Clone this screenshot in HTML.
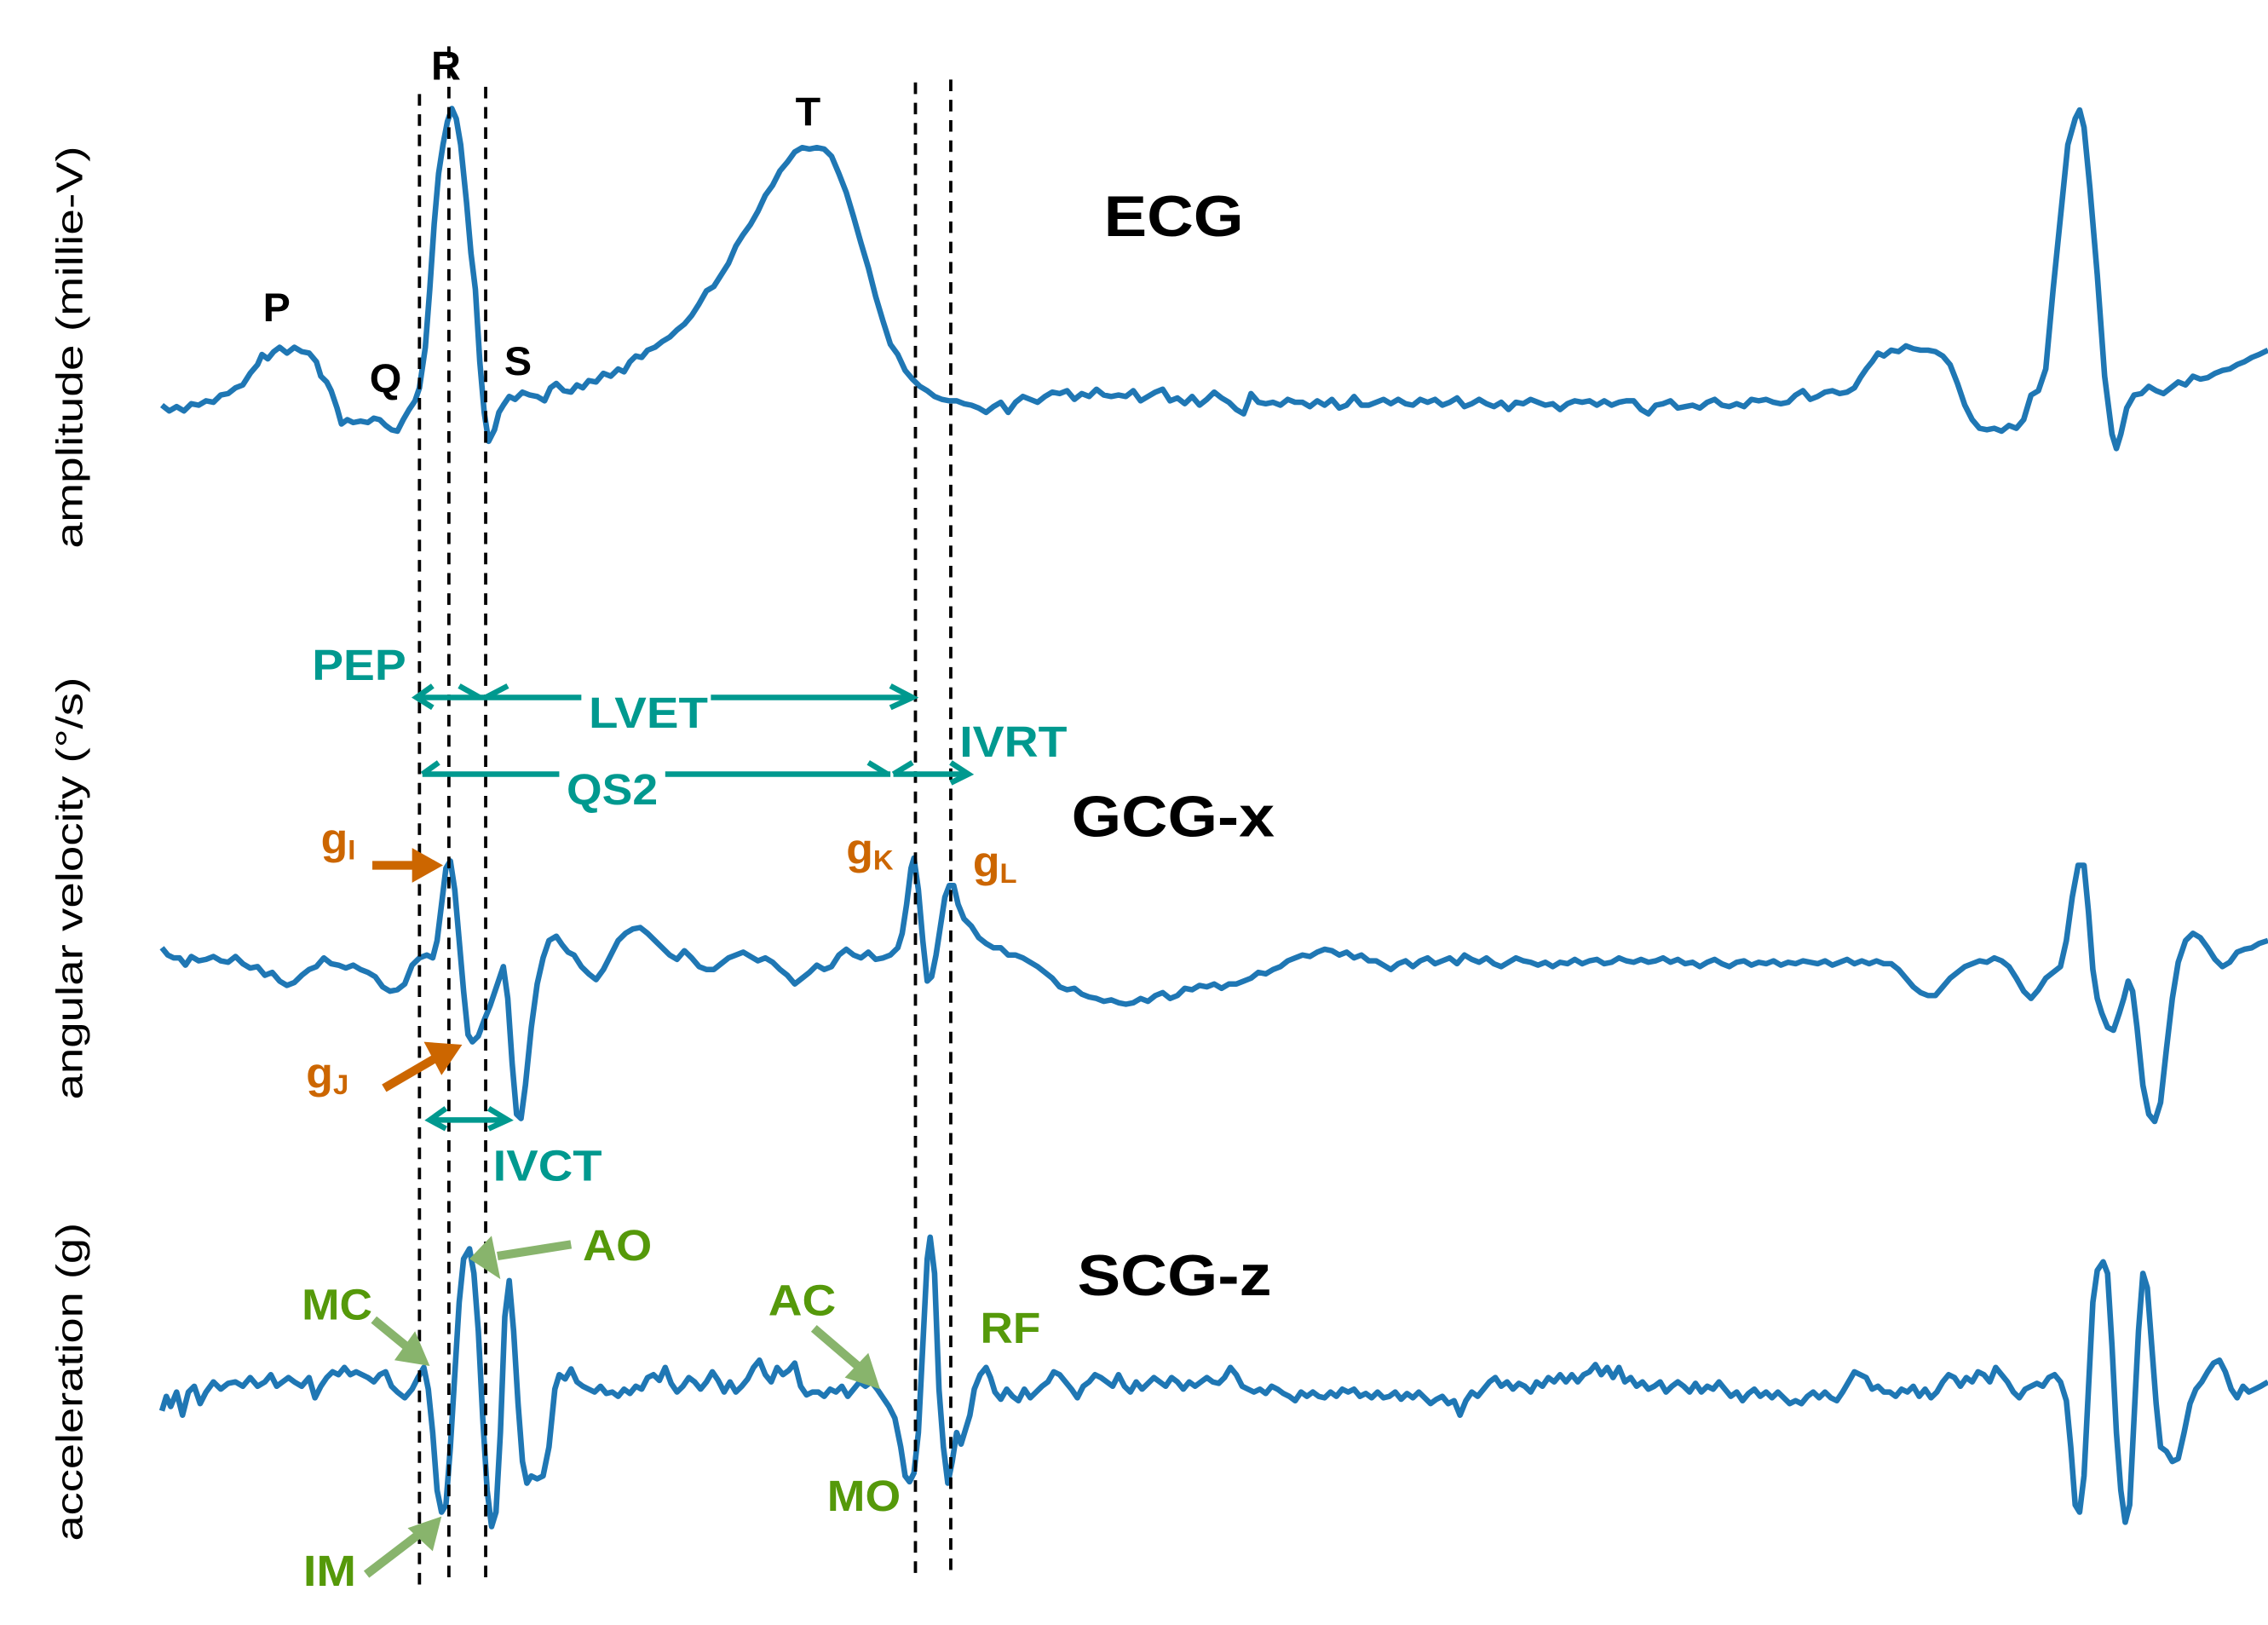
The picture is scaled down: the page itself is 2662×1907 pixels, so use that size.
<!DOCTYPE html>
<html><head><meta charset="utf-8"><style>html,body{margin:0;padding:0;background:#fff}svg{display:block}</style></head>
<body>
<svg width="2662" height="1907" viewBox="0 0 1541 1123" preserveAspectRatio="none" xmlns="http://www.w3.org/2000/svg" font-family="Liberation Sans, sans-serif">
<rect width="1541" height="1123" fill="#fff"/>
<g fill="none" stroke="#1f77b4" stroke-width="3.8" stroke-linejoin="round">
<polyline points="110,280 115,284 120,281 125,284 130,279 135,280 140,277 145,278 150,273 155,272 160,268 165,266 170,258 175,252 178,245 182,248 186,243 190,240 195,244 200,240 205,243 210,244 215,250 218,260 222,264 225,270 229,282 232,293 236,290 240,292 245,291 250,292 254,289 258,290 262,294 266,297 270,298 274,290 278,283 282,277 285,268 289,240 292,200 295,155 298,120 301,100 304,84 307,75 310,82 313,100 317,140 320,175 323,200 326,250 329,285 332,305 336,297 339,285 342,280 346,274 350,276 355,271 360,273 365,274 370,277 374,268 378,265 383,270 388,271 392,266 396,268 400,263 405,264 410,258 415,260 420,255 424,257 428,250 432,246 436,247 440,242 445,240 450,236 455,233 460,228 465,224 470,218 475,210 480,201 485,198 490,190 495,182 500,170 505,162 510,155 515,146 520,135 525,128 530,118 535,112 540,105 545,102 550,103 555,102 560,103 565,108 570,120 575,133 580,150 585,168 590,185 595,205 600,222 605,238 610,245 615,256 620,262 625,267 630,270 635,274 640,276 645,277 650,277 655,279 660,280 665,282 670,285 675,281 680,278 685,285 690,278 695,274 700,276 705,278 710,274 715,271 720,272 725,270 730,276 735,272 740,274 745,269 750,273 755,274 760,273 765,274 770,270 775,277 780,274 785,271 790,269 795,277 800,275 805,279 810,274 815,280 820,276 825,271 830,275 835,278 840,283 845,286 848,278 850,272 855,278 860,279 865,278 870,280 875,276 880,278 885,278 890,281 895,277 900,280 905,276 910,282 915,280 920,274 925,280 930,280 935,278 940,276 945,279 950,276 955,279 960,280 965,276 970,278 975,276 980,280 985,278 990,275 995,281 1000,279 1005,276 1010,279 1015,281 1020,278 1025,283 1030,278 1035,279 1040,276 1045,278 1050,280 1055,279 1060,283 1065,279 1070,277 1075,278 1080,277 1085,280 1090,277 1095,280 1100,278 1105,277 1110,277 1115,283 1120,286 1125,280 1130,279 1135,277 1140,282 1145,281 1150,280 1155,282 1160,278 1165,276 1170,280 1175,281 1180,279 1185,281 1190,276 1195,277 1200,276 1205,278 1210,279 1215,278 1220,273 1225,270 1230,276 1235,274 1240,271 1245,270 1250,272 1255,271 1260,268 1264,261 1268,255 1272,250 1276,244 1280,246 1285,242 1290,243 1295,239 1300,241 1305,242 1310,242 1315,243 1320,246 1325,252 1330,265 1335,280 1340,290 1345,296 1350,297 1355,296 1360,298 1365,294 1370,296 1375,290 1380,273 1385,270 1390,255 1395,200 1400,150 1405,100 1410,82 1413,76 1416,88 1420,130 1425,190 1430,260 1435,300 1438,310 1441,300 1445,282 1450,273 1455,272 1460,267 1465,270 1470,272 1475,268 1480,264 1485,266 1490,260 1495,262 1500,261 1505,258 1510,256 1515,255 1520,252 1525,250 1530,247 1535,245 1541,242"/>
<polyline points="110,655 114,660 118,662 122,662 126,667 130,661 135,664 140,663 145,661 150,664 155,665 160,661 165,666 170,669 175,668 180,674 185,672 190,678 195,681 200,679 205,674 210,670 215,668 220,662 225,666 230,667 235,669 240,667 245,670 250,672 255,675 260,682 265,685 270,684 275,680 280,667 285,662 290,660 294,662 297,650 300,625 303,600 306,595 309,615 312,650 315,685 318,715 321,720 325,716 329,705 333,695 338,680 342,668 345,690 348,735 351,770 354,773 357,750 361,710 365,680 369,662 373,650 378,647 382,653 386,658 390,660 395,668 400,673 405,677 410,670 415,660 420,650 425,645 430,642 435,641 440,645 445,650 450,655 455,660 460,663 465,657 470,662 475,668 480,670 485,670 490,666 495,662 500,660 505,658 510,661 515,664 520,662 525,665 530,670 535,674 540,680 545,676 550,672 555,667 560,670 565,668 570,660 575,656 580,660 585,662 590,658 595,663 600,662 605,660 610,655 613,645 616,625 619,600 621,593 624,615 627,650 630,678 633,675 636,660 639,640 642,620 645,612 648,612 651,625 655,635 660,640 665,648 670,652 675,655 680,655 685,660 690,660 695,662 700,665 705,668 710,672 715,676 720,682 725,684 730,683 735,687 740,689 745,690 750,692 755,691 760,693 765,694 770,693 775,690 780,692 785,688 790,686 795,690 800,688 805,683 810,684 815,681 820,682 825,680 830,683 835,680 840,680 845,678 850,676 855,672 860,673 865,670 870,668 875,664 880,662 885,660 890,661 895,658 900,656 905,657 910,660 915,658 920,662 925,660 930,664 935,664 940,667 945,670 950,666 955,664 960,668 965,664 970,662 975,666 980,664 985,662 990,666 995,660 1000,663 1005,665 1010,662 1015,666 1020,668 1025,665 1030,662 1035,664 1040,665 1045,667 1050,665 1055,668 1060,665 1065,666 1070,663 1075,666 1080,664 1085,663 1090,666 1095,665 1100,662 1105,664 1110,665 1115,663 1120,665 1125,664 1130,662 1135,665 1140,663 1145,666 1150,665 1155,668 1160,665 1165,663 1170,666 1175,668 1180,665 1185,664 1190,667 1195,665 1200,666 1205,664 1210,667 1215,665 1220,666 1225,664 1230,665 1235,666 1240,664 1245,667 1250,665 1255,663 1260,666 1265,664 1270,666 1275,664 1280,666 1285,666 1290,670 1295,676 1300,682 1305,686 1310,688 1315,688 1320,682 1325,676 1330,672 1335,668 1340,666 1345,664 1350,665 1355,662 1360,664 1365,668 1370,676 1375,685 1380,690 1385,684 1390,676 1395,672 1400,668 1404,650 1408,620 1412,598 1416,598 1419,630 1422,670 1425,690 1428,700 1432,710 1436,712 1440,700 1443,690 1446,678 1449,685 1452,710 1456,750 1460,770 1464,775 1468,762 1472,725 1476,690 1480,665 1485,650 1490,645 1495,648 1500,655 1505,663 1510,668 1515,665 1520,658 1525,656 1530,655 1535,652 1541,650"/>
<polyline points="110,975 113,965 116,972 120,962 124,978 128,962 132,958 136,970 140,962 145,955 150,960 155,956 160,955 165,958 170,952 175,958 180,955 184,950 188,958 192,955 196,952 200,955 205,958 210,952 214,966 218,958 222,952 226,948 230,950 234,945 238,950 242,948 246,950 250,952 254,955 258,950 262,948 266,958 270,962 275,966 280,960 284,952 288,945 291,960 294,990 297,1030 300,1045 303,1040 306,1000 309,950 312,900 315,870 319,863 322,880 325,920 328,980 331,1030 334,1055 337,1045 340,990 343,910 346,885 349,920 352,970 355,1010 358,1025 361,1020 365,1022 369,1020 373,1000 377,960 380,950 384,953 388,946 392,955 396,958 400,960 404,962 408,958 412,963 416,962 420,965 424,960 428,963 432,958 436,960 440,952 444,950 448,954 452,945 456,956 460,962 464,958 468,952 472,955 476,960 480,955 484,948 488,954 492,962 496,955 500,962 504,958 508,953 512,945 516,940 520,950 524,955 528,945 532,950 536,947 540,942 544,958 548,964 552,962 556,962 560,965 564,960 568,962 572,958 576,965 580,960 584,955 588,958 592,955 596,960 600,966 604,972 608,980 612,1000 615,1020 618,1024 621,1018 624,990 627,930 630,870 632,855 635,880 638,960 641,1000 644,1025 647,1010 650,990 653,998 656,988 659,978 662,960 666,950 670,945 673,952 676,962 680,967 684,960 688,965 692,968 696,960 700,966 704,962 708,958 712,955 716,948 720,950 724,955 728,960 732,966 736,958 740,955 744,950 748,952 752,955 756,958 760,950 764,958 768,962 772,955 776,960 780,956 784,952 788,955 792,958 796,952 800,955 804,960 808,955 812,958 816,955 820,952 824,955 828,956 832,952 836,945 840,950 844,958 848,960 852,962 856,960 860,963 864,958 868,960 872,963 876,965 880,968 884,962 888,965 892,962 896,965 900,966 904,962 908,965 912,960 916,962 920,960 924,965 928,963 932,966 936,962 940,966 944,965 948,962 952,967 956,963 960,966 964,962 968,966 972,970 976,967 980,965 984,970 988,968 992,978 996,968 1000,962 1004,965 1008,960 1012,955 1016,952 1020,958 1024,955 1028,960 1032,956 1036,958 1040,962 1044,955 1048,958 1052,952 1056,955 1060,950 1064,955 1068,950 1072,955 1076,950 1080,948 1084,943 1088,950 1092,945 1096,952 1100,945 1104,955 1108,952 1112,958 1116,955 1120,960 1124,958 1128,955 1132,962 1136,958 1140,955 1144,958 1148,962 1152,956 1156,962 1160,958 1164,960 1168,955 1172,960 1176,965 1180,962 1184,968 1188,963 1192,960 1196,965 1200,962 1204,966 1208,962 1212,966 1216,970 1220,968 1224,970 1228,965 1232,962 1236,966 1240,962 1244,966 1248,968 1252,962 1256,955 1260,948 1264,950 1268,952 1272,960 1276,958 1280,962 1284,962 1288,965 1292,960 1296,962 1300,958 1304,965 1308,960 1312,966 1316,962 1320,955 1324,950 1328,952 1332,958 1336,952 1340,955 1344,948 1348,950 1352,955 1356,945 1360,950 1364,955 1368,962 1372,966 1376,960 1380,958 1384,956 1388,958 1392,952 1396,950 1400,955 1404,968 1407,1000 1410,1040 1413,1045 1416,1020 1419,960 1422,900 1425,878 1429,872 1432,880 1435,930 1438,990 1441,1030 1444,1052 1447,1040 1450,980 1453,920 1456,880 1459,890 1462,930 1465,970 1468,1000 1472,1003 1476,1010 1480,1008 1484,990 1488,970 1492,960 1496,955 1500,948 1504,942 1508,940 1512,948 1516,960 1520,966 1524,958 1528,962 1532,960 1536,958 1541,955"/>
</g>
<g stroke="#000" stroke-width="2.2" stroke-dasharray="8,6">
<line x1="285" y1="65" x2="285" y2="1095"/>
<line x1="305" y1="32" x2="305" y2="1092"/>
<line x1="330" y1="60" x2="330" y2="1090"/>
<line x1="622" y1="57" x2="622" y2="1088"/>
<line x1="646" y1="55" x2="646" y2="1088"/>
</g>
<g stroke="#00998f" stroke-width="3.8" fill="none" stroke-linecap="butt">
<line x1="283" y1="482" x2="395" y2="482"/>
<line x1="483" y1="482" x2="620" y2="482"/>
<polyline points="294,474 283,482 294,489"/>
<polyline points="312,474 326,482"/>
<polyline points="345,474 330,482"/>
<polyline points="605,474 620,482 605,489"/>
<line x1="287" y1="535" x2="380" y2="535"/>
<line x1="452" y1="535" x2="605" y2="535"/>
<polyline points="298,527 287,535"/>
<polyline points="590,527 603,535"/>
<line x1="607" y1="535" x2="658" y2="535"/>
<polyline points="620,527 607,535"/>
<polyline points="646,527 658,535 646,541"/>
<line x1="292" y1="774" x2="345" y2="774"/>
<polyline points="303,766 292,774 303,780"/>
<polyline points="332,766 345,774 332,780"/>
</g>
<g fill="#cc6600" stroke="#cc6600">
<line x1="253" y1="598" x2="285" y2="598" stroke-width="6"/>
<polygon points="280,586 301,598 280,610" stroke="none"/>
<line x1="261" y1="752" x2="298" y2="730" stroke-width="6"/>
<polygon points="288,720 314,722 300,743" stroke="none"/>
</g>
<g fill="#88b46c" stroke="#88b46c">
<line x1="254" y1="912" x2="278" y2="932" stroke-width="6"/>
<polygon points="268,940 292,944 282,920" stroke="none"/>
<line x1="388" y1="860" x2="338" y2="868" stroke-width="6"/>
<polygon points="334,854 319,870 340,884" stroke="none"/>
<line x1="553" y1="918" x2="584" y2="945" stroke-width="6"/>
<polygon points="574,952 598,960 590,935" stroke="none"/>
<line x1="249" y1="1088" x2="285" y2="1060" stroke-width="6"/>
<polygon points="277,1056 300,1048 294,1072" stroke="none"/>
</g>
<g font-weight="bold" fill="#000" font-size="28">
<text x="188" y="222" text-anchor="middle">P</text>
<text x="262" y="271" text-anchor="middle">Q</text>
<text x="303" y="55" text-anchor="middle">R</text>
<text x="352" y="259" text-anchor="middle">S</text>
<text x="549" y="87" text-anchor="middle">T</text>
<text x="750" y="163" font-size="40" textLength="95" lengthAdjust="spacingAndGlyphs">ECG</text>
<text x="728" y="578" font-size="40" textLength="138" lengthAdjust="spacingAndGlyphs">GCG-x</text>
<text x="732" y="895" font-size="40" textLength="132" lengthAdjust="spacingAndGlyphs">SCG-z</text>
</g>
<g font-weight="bold" fill="#00998f" font-size="30">
<text x="212" y="470" textLength="64" lengthAdjust="spacingAndGlyphs">PEP</text>
<text x="400" y="503" textLength="81" lengthAdjust="spacingAndGlyphs">LVET</text>
<text x="385" y="556" textLength="62" lengthAdjust="spacingAndGlyphs">QS2</text>
<text x="652" y="523" textLength="73" lengthAdjust="spacingAndGlyphs">IVRT</text>
<text x="335" y="816" textLength="74" lengthAdjust="spacingAndGlyphs">IVCT</text>
</g>
<g font-weight="bold" fill="#cc6600" font-size="30">
<text x="218" y="590">g<tspan font-size="19" dy="4">I</tspan></text>
<text x="575" y="597">g<tspan font-size="19" dy="4">K</tspan></text>
<text x="661" y="606">g<tspan font-size="19" dy="4">L</tspan></text>
<text x="208" y="752">g<tspan font-size="19" dy="4">J</tspan></text>
</g>
<g font-weight="bold" fill="#55990a" font-size="30">
<text x="396" y="871" textLength="47" lengthAdjust="spacingAndGlyphs">AO</text>
<text x="205" y="912" textLength="48" lengthAdjust="spacingAndGlyphs">MC</text>
<text x="522" y="909" textLength="46" lengthAdjust="spacingAndGlyphs">AC</text>
<text x="666" y="928" textLength="41" lengthAdjust="spacingAndGlyphs">RF</text>
<text x="562" y="1044" textLength="50" lengthAdjust="spacingAndGlyphs">MO</text>
<text x="206" y="1096" textLength="36" lengthAdjust="spacingAndGlyphs">IM</text>
</g>
<g font-size="25" fill="#000">
<text transform="translate(56,240) rotate(-90)" text-anchor="middle" textLength="278" lengthAdjust="spacingAndGlyphs">amplitude (millie-V)</text>
<text transform="translate(56,614) rotate(-90)" text-anchor="middle" textLength="292" lengthAdjust="spacingAndGlyphs">angular velocity (°/s)</text>
<text transform="translate(56,955) rotate(-90)" text-anchor="middle" textLength="220" lengthAdjust="spacingAndGlyphs">acceleration (g)</text>
</g>
</svg>
</body></html>
